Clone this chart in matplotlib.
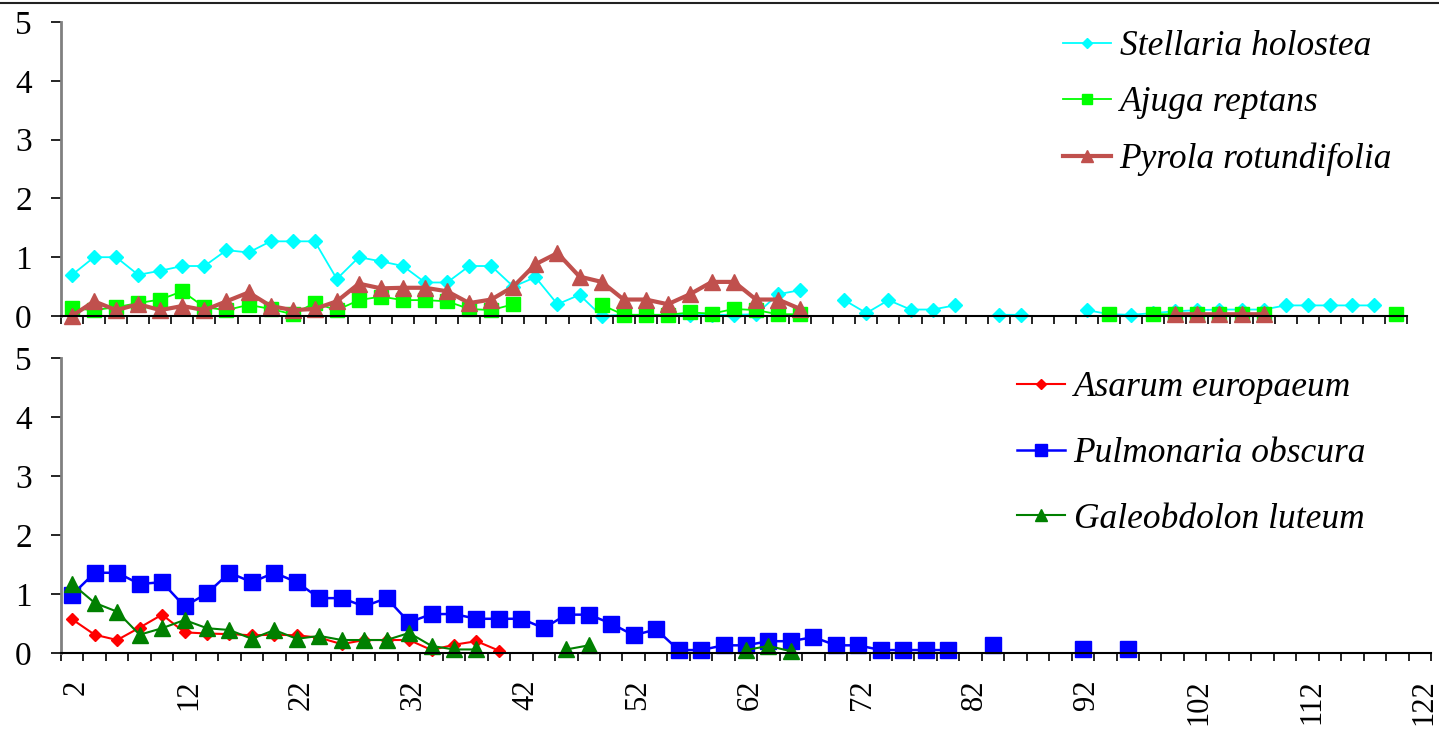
import numpy as np
import matplotlib
matplotlib.use("Agg")
import matplotlib.pyplot as plt
import matplotlib.transforms as mtransforms
from matplotlib.lines import Line2D

# categories (plot numbers) and labelled ticks
cats = list(range(2, 124, 2))
tick_labels = [2, 12, 22, 32, 42, 52, 62, 72, 82, 92, 102, 112, 122]
N = None

# upper panel
stellaria = [0.70, 1.00, 1.00, 0.70, 0.77, 0.85, 0.85, 1.12, 1.08, 1.27,
             1.27, 1.27, 0.63, 1.00, 0.93, 0.85, 0.57, 0.57, 0.85, 0.85,
             0.50, 0.66, 0.20, 0.36, 0.00, 0.02, 0.02, 0.02, 0.02, 0.02,
             0.02, 0.03, 0.37, 0.44, N, 0.27, 0.05, 0.27, 0.11, 0.11,
             0.18, N, 0.02, 0.02, N, N, 0.10, 0.03, 0.02, 0.05,
             0.08, 0.10, 0.11, 0.11, 0.11, 0.18, 0.18, 0.18, 0.18, 0.18,
             N]
ajuga = [0.13, 0.10, 0.15, 0.22, 0.28, 0.42, 0.15, 0.10, 0.19, 0.12,
         0.03, 0.22, 0.10, 0.27, 0.33, 0.27, 0.27, 0.25, 0.12, 0.10,
         0.20, N, N, N, 0.19, 0.02, 0.02, 0.02, 0.06, 0.04,
         0.12, 0.10, 0.03, 0.03, N, N, N, N, N, N,
         N, N, N, N, N, N, N, 0.03, N, 0.03,
         0.03, 0.03, 0.03, 0.03, 0.03, N, N, N, N, N,
         0.03]
pyrola = [0.00, 0.25, 0.10, 0.20, 0.10, 0.17, 0.10, 0.25, 0.40, 0.17,
          0.10, 0.12, 0.25, 0.55, 0.47, 0.48, 0.48, 0.42, 0.22, 0.28,
          0.50, 0.88, 1.07, 0.67, 0.58, 0.28, 0.28, 0.20, 0.37, 0.58,
          0.58, 0.28, 0.28, 0.12, N, N, N, N, N, N,
          N, N, N, N, N, N, N, N, N, N,
          0.03, 0.03, 0.03, 0.03, 0.03, N, N, N, N, N,
          N]

# lower panel
asarum = [0.57, 0.31, 0.22, 0.43, 0.65, 0.35, 0.33, 0.32, 0.30, 0.31,
          0.30, 0.26, 0.15, 0.22, 0.22, 0.22, 0.05, 0.14, 0.20, 0.04] + [N] * 41
pulmonaria = [0.99, 1.36, 1.36, 1.17, 1.20, 0.79, 1.01, 1.36, 1.20, 1.36,
              1.20, 0.93, 0.93, 0.79, 0.93, 0.52, 0.66, 0.66, 0.58, 0.58,
              0.58, 0.42, 0.65, 0.65, 0.50, 0.30, 0.40, 0.05, 0.05, 0.13,
              0.13, 0.20, 0.20, 0.27, 0.13, 0.13, 0.05, 0.05, 0.05, 0.05,
              N, 0.13, N, N, N, 0.06, N, 0.06, N, N] + [N] * 11
galeobdolon = [1.17, 0.85, 0.70, 0.31, 0.42, 0.56, 0.42, 0.39, 0.24, 0.39,
               0.24, 0.29, 0.22, 0.22, 0.22, 0.34, 0.12, 0.06, 0.06,
               N, N, N, 0.06, 0.13, N, N, N, N, N, N,
               0.05, 0.12, 0.03] + [N] * 28

plt.rcParams['font.family'] = ['Liberation Serif', 'DejaVu Serif']

W, H = 1439, 729
fig = plt.figure(figsize=(W / 100, H / 100), dpi=100)


def axes_px(left, top, right, bottom):
    return fig.add_axes([left / W, 1 - bottom / H, (right - left) / W, (bottom - top) / H])


def arr(v):
    return np.array([np.nan if a is None else a for a in v], dtype=float)


def style(ax, show_labels):
    ax.set_xlim(cats[0] - 1, cats[-1] + 1)
    ax.set_ylim(0, 5)
    for s in ("top", "right"):
        ax.spines[s].set_visible(False)
    ax.spines["left"].set_color("#808080")
    ax.spines["left"].set_linewidth(2)
    ax.spines["bottom"].set_color("black")
    ax.spines["bottom"].set_linewidth(1.5)
    ax.set_yticks(range(6))
    ax.tick_params(axis="y", direction="out", length=7, width=1.2, labelsize=24, pad=14)
    ax.set_xticks(tick_labels)
    ax.set_xticks([c - 1 for c in cats] + [cats[-1] + 1], minor=True)
    ax.tick_params(axis="x", which="major", length=0, labelsize=22, pad=19,
                   labelrotation=90, labelbottom=show_labels)
    ax.tick_params(axis="x", which="minor", direction="out", length=6, width=1.2)


ax_top = axes_px(61, 22, 1407, 316)
ax_bot = axes_px(61, 358, 1431, 653)
style(ax_top, False)
style(ax_bot, True)

# nudge the rotated labels a little to the right, as in the original
shift = mtransforms.ScaledTranslation(4 / 100, 0, fig.dpi_scale_trans)
for lab in ax_bot.get_xticklabels():
    lab.set_transform(lab.get_transform() + shift)

x = np.array(cats)
ax_top.plot(x, arr(stellaria), color="#00FFFF", lw=1.3, marker="D", ms=7,
            label="Stellaria holostea", clip_on=False)
ax_top.plot(x, arr(ajuga), color="#00FF00", lw=1.3, marker="s", ms=10,
            label="Ajuga reptans", clip_on=False)
ax_top.plot(x, arr(pyrola), color="#C0504D", lw=3, marker="^", ms=11.5,
            label="Pyrola rotundifolia", clip_on=False)

ax_bot.plot(x, arr(asarum), color="#FF0000", lw=1.5, marker="D", ms=6.5,
            label="Asarum europaeum", clip_on=False)
ax_bot.plot(x, arr(pulmonaria), color="#0000FF", lw=1.8, marker="s", ms=11.5,
            label="Pulmonaria obscura", clip_on=False)
ax_bot.plot(x, arr(galeobdolon), color="#008000", lw=1.5, marker="^", ms=11,
            label="Galeobdolon luteum", clip_on=False)

leg_font = {"family": "Liberation Serif", "style": "italic", "size": 25.5}
ax_top.legend(loc="upper left", bbox_to_anchor=(1063 / W, 1 - 30 / H),
              bbox_transform=fig.transFigure, frameon=False, borderpad=0,
              borderaxespad=0, handlelength=1.35, handletextpad=0.25,
              labelspacing=0.66, markerscale=0.75, prop=leg_font)
ax_bot.legend(loc="upper left", bbox_to_anchor=(1017 / W, 1 - 371 / H),
              bbox_transform=fig.transFigure, frameon=False, borderpad=0,
              borderaxespad=0, handlelength=1.35, handletextpad=0.25,
              labelspacing=0.93, markerscale=0.75, prop=leg_font)

fig.add_artist(Line2D([0, 1], [1 - 3 / H] * 2, transform=fig.transFigure,
                      color="#222222", lw=1.5))

fig.savefig("out.png", dpi=100)
